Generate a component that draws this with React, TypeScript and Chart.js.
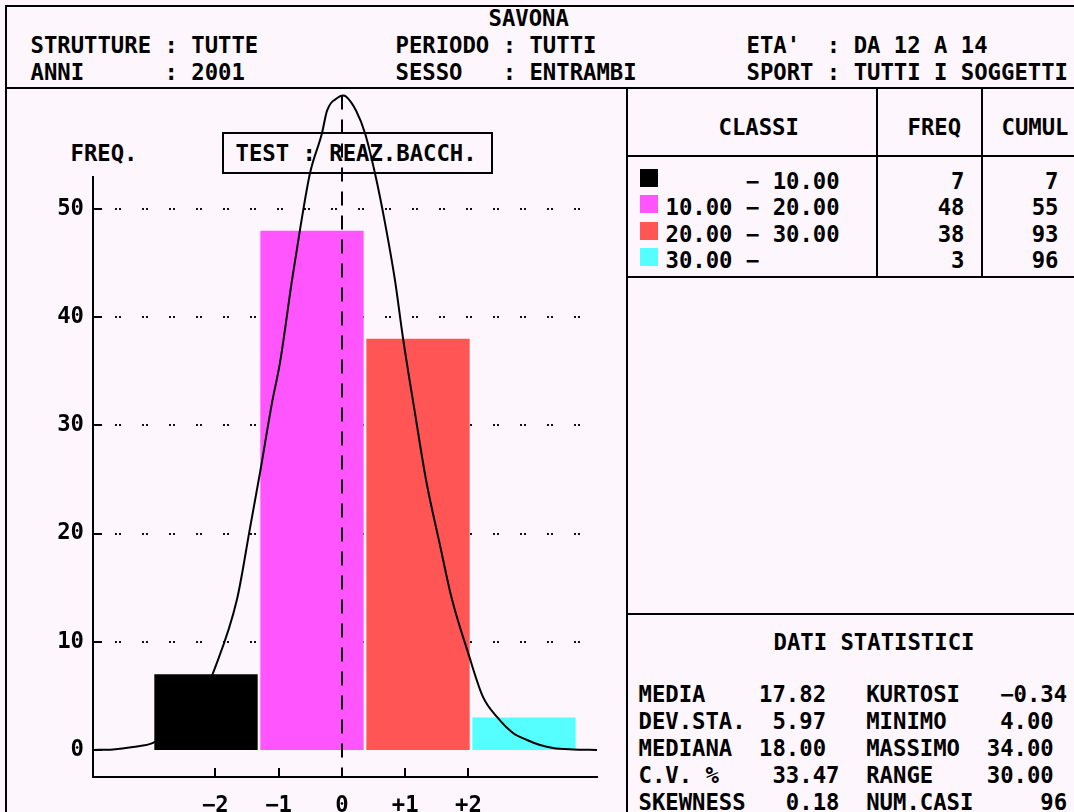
import React, { useEffect, useRef } from "react";
import { Chart, registerables } from "chart.js";

Chart.register(...registerables);

// ---------- data ----------
const binCenters = [5, 15, 25, 35];
const classFrom: (number | null)[] = [null, 10, 20, 30];
const classTo: (number | null)[] = [10, 20, 30, null];
const freq = [7, 48, 38, 3];
const cumul = [7, 55, 93, 96];
const classColors = ["#000000", "#ff55ff", "#ff5555", "#55ffff"];

// fitted normal curve
const curveX = [
  -5.66, -3.77, -1.89, 0.0, 3.3, 4.72, 5.66, 7.92, 9.15, 10.09, 11.23, 11.98, 13.11, 13.87,
  14.81, 15.94, 16.42, 17.45, 17.92, 18.21, 19.15, 20.0, 20.94, 21.89, 22.83, 23.58, 24.72,
  25.75, 27.08, 28.21, 29.72, 31.13, 32.45, 33.96, 35.28, 36.51, 37.74, 39.62, 41.89,
];
const curveY = [
  0.0, 0.05, 0.28, 0.65, 3.0, 4.9, 7.1, 13.9, 20.5, 25.6, 32.1, 35.8, 43.4, 48.1,
  53.3, 57.0, 59.1, 60.3, 60.5, 60.4, 59.1, 57.0, 53.3, 48.7, 43.4, 38.1, 31.1,
  25.0, 18.9, 13.9, 9.0, 4.9, 3.05, 1.57, 0.92, 0.46, 0.18, 0.05, 0.0,
];

const yTicks = [0, 10, 20, 30, 40, 50];
const sdSteps = [-2, -1, 0, 1, 2];
const xTickLabels = ["\u22122", "\u22121", "0", "+1", "+2"];

const statsLeftLabels = ["MEDIA", "DEV.STA.", "MEDIANA", "C.V. %", "SKEWNESS"];
const statsLeftValues = [17.82, 5.97, 18.0, 33.47, 0.18];
const statsRightLabels = ["KURTOSI", "MINIMO", "MASSIMO", "RANGE", "NUM.CASI"];
const statsRightValues = [-0.34, 4.0, 34.0, 30.0, 96];

const headerTitle = "SAVONA";
const headerLeft = ["STRUTTURE : TUTTE", "ANNI      : 2001"];
const headerMid = ["PERIODO : TUTTI", "SESSO   : ENTRAMBI"];
const headerRight = ["ETA'  : DA 12 A 14", "SPORT : TUTTI I SOGGETTI"];
const testLabel = "TEST : REAZ.BACCH.";
const yAxisTitle = "FREQ.";

// ---------- layout (not data) ----------
const leftEndCols = [14, 14, 14, 15, 15];
const rightEndCols = [32, 31, 31, 31, 32];
const rightDecimals = [2, 2, 2, 2, 0];
const tableRowsCy = [181, 207, 234, 260];
const statsRowsCy = [694, 721, 748, 775, 802];

const mean = statsLeftValues[0];
const sd = statsLeftValues[1];

const fmt = (v: number, d: number) => v.toFixed(d).replace("-", "\u2212");
const FONT = "'DejaVu Sans Mono', monospace";
const BG = "#fdf6fd";
const X_MIN = -5.66;
const X_MAX = 41.98;

const mono: React.CSSProperties = {
  position: "absolute",
  fontFamily: FONT,
  fontWeight: "bold",
  fontSize: "22.25px",
  lineHeight: "26px",
  whiteSpace: "pre",
  color: "#000",
};

const T = ({ x, cy, children }: { x: number; cy: number; children: any }) => (
  <div style={{ ...mono, left: x - 1.5, top: cy - 13 }}>{children}</div>
);
const R = ({ xr, cy, children }: { xr: number; cy: number; children: any }) => (
  <div style={{ ...mono, left: 0, width: xr + 1.5, textAlign: "right", top: cy - 13 }}>{children}</div>
);
const L = ({ x, y, w, h }: { x: number; y: number; w: number; h: number }) => (
  <div style={{ position: "absolute", left: x, top: y, width: w, height: h, background: "#000" }} />
);

const statsLine = (i: number) => {
  const v1 = fmt(statsLeftValues[i], 2);
  const v2 = fmt(statsRightValues[i], rightDecimals[i]);
  let s = statsLeftLabels[i];
  s = s.padEnd(leftEndCols[i] - v1.length) + v1;
  s = s.padEnd(17) + statsRightLabels[i];
  s = s.padEnd(rightEndCols[i] - v2.length) + v2;
  return s;
};

const classText = (i: number) => {
  const a = classFrom[i] != null ? (classFrom[i] as number).toFixed(2) : "     ";
  const b = classTo[i] != null ? (classTo[i] as number).toFixed(2) : "";
  return `${a} \u2212 ${b}`;
};

const overlayPlugin = {
  id: "overlay",
  beforeDatasetsDraw(chart: any) {
    const { ctx, scales } = chart;
    const x = scales.x;
    const y = scales.y;
    ctx.save();
    ctx.strokeStyle = "#111";
    ctx.lineWidth = 2;
    ctx.setLineDash([2, 2, 2, 21]);
    for (const v of yTicks) {
      if (v <= 0) continue;
      const py = Math.round(y.getPixelForValue(v));
      ctx.beginPath();
      ctx.moveTo(x.left + 22, py);
      ctx.lineTo(x.right - 14, py);
      ctx.stroke();
    }
    ctx.restore();
  },
  afterDatasetsDraw(chart: any) {
    const { ctx, scales } = chart;
    const x = scales.x;
    const y = scales.y;
    ctx.save();
    ctx.strokeStyle = "#000";
    ctx.lineWidth = 2;
    // axes
    ctx.beginPath();
    ctx.moveTo(x.left, y.top);
    ctx.lineTo(x.left, y.bottom);
    ctx.lineTo(x.right, y.bottom);
    ctx.stroke();
    // y tick marks (inside)
    for (const v of yTicks) {
      const py = Math.round(y.getPixelForValue(v));
      ctx.beginPath();
      ctx.moveTo(x.left, py);
      ctx.lineTo(x.left + 9, py);
      ctx.stroke();
    }
    // x tick marks (inside)
    for (const k of sdSteps) {
      const px = Math.round(x.getPixelForValue(mean + k * sd));
      ctx.beginPath();
      ctx.moveTo(px, y.bottom);
      ctx.lineTo(px, y.bottom - 9);
      ctx.stroke();
    }
    // mean dashed line
    const pm = Math.round(x.getPixelForValue(mean));
    ctx.setLineDash([14, 10]);
    ctx.beginPath();
    ctx.moveTo(pm, y.getPixelForValue(60.5));
    ctx.lineTo(pm, y.bottom - 3);
    ctx.stroke();
    ctx.restore();
  },
};

export default function App() {
  const ref = useRef<HTMLCanvasElement>(null);

  useEffect(() => {
    if (!ref.current) return;
    const chart = new Chart(ref.current, {
      type: "bar",
      data: {
        datasets: [
          {
            type: "line",
            data: curveX.map((v, i) => ({ x: v, y: curveY[i] })),
            borderColor: "#000",
            borderWidth: 2,
            pointRadius: 0,
            tension: 0.4,
            cubicInterpolationMode: "monotone",
            clip: false,
            xAxisID: "x",
            order: 0,
          } as any,
          {
            type: "bar",
            data: binCenters.map((c, i) => ({ x: c, y: freq[i] })),
            backgroundColor: classColors,
            borderWidth: 0,
            grouped: false,
            barPercentage: 1,
            categoryPercentage: 0.975,
            xAxisID: "xb",
            order: 1,
          } as any,
        ],
      },
      options: {
        animation: false,
        responsive: false,
        events: [],
        layout: { padding: { left: 0, top: 176, right: 476, bottom: 0 } },
        plugins: { legend: { display: false }, tooltip: { enabled: false } },
        scales: {
          x: {
            type: "linear",
            position: "bottom",
            min: X_MIN,
            max: X_MAX,
            offset: false,
            grid: { display: false, drawTicks: false, offset: false },
            border: { display: false },
            afterBuildTicks: (s: any) => {
              s.ticks = sdSteps.map((k) => ({ value: mean + k * sd }));
            },
            afterFit: (s: any) => {
              s.height = 35;
            },
            ticks: {
              autoSkip: false,
              maxRotation: 0,
              padding: 16,
              color: "#000",
              font: { family: FONT, weight: "bold", size: 22.25 },
              callback: (_v: any, i: number) => xTickLabels[i],
            },
          },
          xb: {
            type: "linear",
            position: "bottom",
            min: X_MIN,
            max: X_MAX,
            offset: false,
            grid: { display: false, drawTicks: false, offset: false },
            border: { display: false },
            afterBuildTicks: (s: any) => {
              s.ticks = binCenters.map((v) => ({ value: v }));
            },
            afterFit: (s: any) => {
              s.height = 0;
            },
            ticks: { display: false },
          },
          y: {
            type: "linear",
            min: -2.5,
            max: 53.05,
            grid: { display: false, drawTicks: false },
            border: { display: false },
            afterBuildTicks: (s: any) => {
              s.ticks = yTicks.map((v) => ({ value: v }));
            },
            afterFit: (s: any) => {
              s.width = 93;
            },
            ticks: {
              padding: 9,
              color: "#000",
              font: { family: FONT, weight: "bold", size: 22.25 },
              callback: (v: any) => String(v),
            },
          },
        },
      } as any,
      plugins: [overlayPlugin],
    });
    return () => chart.destroy();
  }, []);

  return (
    <div
      style={{
        position: "absolute",
        left: 0,
        top: 0,
        width: 1074,
        height: 812,
        overflow: "hidden",
        background: BG,
      }}
    >
      {/* frame */}
      <L x={5} y={5} w={1069} h={2} />
      <L x={5} y={5} w={2} h={807} />
      <L x={5} y={87} w={1069} h={2} />
      <L x={626} y={87} w={2} h={725} />
      <L x={626} y={155} w={448} h={2} />
      <L x={876} y={87} w={2} h={190} />
      <L x={981} y={87} w={2} h={190} />
      <L x={626} y={276} w={448} h={2} />
      <L x={626} y={613} w={448} h={2} />

      {/* header */}
      <T x={490} cy={18}>{headerTitle}</T>
      <T x={32} cy={45}>{headerLeft[0]}</T>
      <T x={32} cy={72}>{headerLeft[1]}</T>
      <T x={397} cy={45}>{headerMid[0]}</T>
      <T x={397} cy={72}>{headerMid[1]}</T>
      <T x={748} cy={45}>{headerRight[0]}</T>
      <T x={748} cy={72}>{headerRight[1]}</T>

      {/* chart labels */}
      <T x={72} cy={153}>{yAxisTitle}</T>
      <div
        style={{
          position: "absolute",
          left: 222,
          top: 132,
          width: 267,
          height: 38,
          border: "2px solid #000",
        }}
      />
      <T x={237} cy={153}>{testLabel}</T>

      {/* table */}
      <T x={720} cy={127}>CLASSI</T>
      <T x={909} cy={127}>FREQ</T>
      <T x={1003} cy={127}>CUMUL</T>
      {freq.map((f, i) => (
        <React.Fragment key={i}>
          <div
            style={{
              position: "absolute",
              left: 640,
              top: tableRowsCy[i] - 12,
              width: 18,
              height: 18,
              background: classColors[i],
            }}
          />
          <T x={667} cy={tableRowsCy[i]}>{classText(i)}</T>
          <R xr={963} cy={tableRowsCy[i]}>{String(f)}</R>
          <R xr={1057} cy={tableRowsCy[i]}>{String(cumul[i])}</R>
        </React.Fragment>
      ))}

      {/* stats */}
      <T x={775} cy={642}>DATI STATISTICI</T>
      {statsRowsCy.map((cy, i) => (
        <T key={i} x={640} cy={cy}>
          {statsLine(i)}
        </T>
      ))}

      <canvas
        ref={ref}
        width={1074}
        height={812}
        style={{ position: "absolute", left: 0, top: 0, width: 1074, height: 812 }}
      />
    </div>
  );
}
